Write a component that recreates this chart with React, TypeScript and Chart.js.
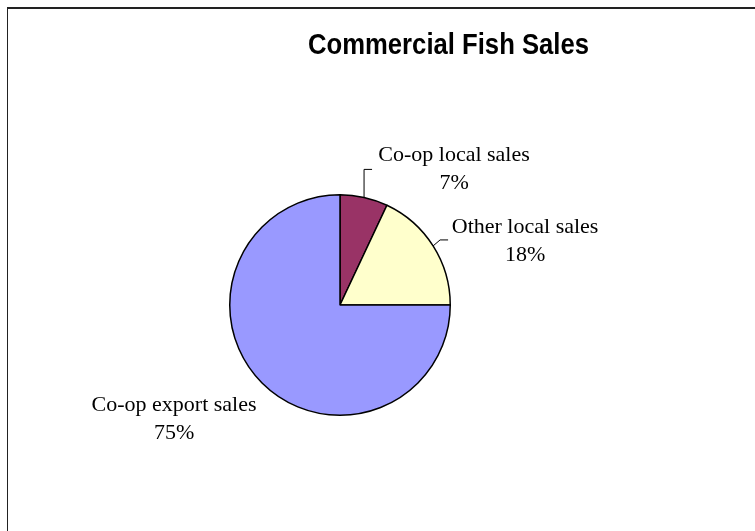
import React, { useEffect, useRef } from "react";
import { Chart, registerables } from "chart.js";

Chart.register(...registerables);

const TITLE = "Commercial Fish Sales";
const categories = ["Co-op local sales", "Other local sales", "Co-op export sales"];
const values = [7, 18, 75];
const sliceColors = ["#993366", "#FFFFCC", "#9999FF"];

// label placement relative to the slice's mid-arc point (styling only)
const placements = [
  { dx: 90, dy: -36, leader: [[0, -28], [8, -28]] },
  { dx: 92, dy: -13, leader: [[7, -6], [15, -6]] },
  { dx: -88, dy: 28, leader: null as null | number[][] },
];

const excelPlugin = {
  id: "excelDecor",
  beforeDraw(chart: any) {
    const ctx = chart.ctx;
    ctx.save();
    ctx.fillStyle = "#ffffff";
    ctx.fillRect(0, 0, chart.width, chart.height);
    ctx.fillStyle = "#222222";
    ctx.fillRect(7, 7, chart.width - 7, 2);
    ctx.fillRect(7, 7, 1, chart.height - 7);
    ctx.restore();
  },
  afterDraw(chart: any) {
    const ctx = chart.ctx;
    const meta = chart.getDatasetMeta(0);
    const data: number[] = chart.data.datasets[0].data;
    const labels: string[] = chart.data.labels;
    const total = data.reduce((a, b) => a + b, 0);
    ctx.save();
    meta.data.forEach((arc: any, i: number) => {
      const { x, y, startAngle, endAngle, outerRadius } = arc.getProps(
        ["x", "y", "startAngle", "endAngle", "outerRadius"],
        true
      );
      const mid = (startAngle + endAngle) / 2;
      const px = x + Math.cos(mid) * outerRadius;
      const py = y + Math.sin(mid) * outerRadius;
      const p = placements[i];
      if (p.leader) {
        ctx.beginPath();
        ctx.strokeStyle = "#000";
        ctx.lineWidth = 1;
        ctx.moveTo(px, py);
        p.leader.forEach(([dx, dy]) => ctx.lineTo(px + dx, py + dy));
        ctx.stroke();
      }
      const lx = px + p.dx;
      const ly = py + p.dy;
      ctx.fillStyle = "#000";
      ctx.font = "22px 'Liberation Serif', 'Times New Roman', serif";
      ctx.textAlign = "center";
      ctx.textBaseline = "alphabetic";
      ctx.fillText(labels[i], lx, ly);
      ctx.fillText(Math.round((data[i] / total) * 100) + "%", lx, ly + 28);
    });
    // title
    ctx.translate(448.5, 54);
    ctx.scale(0.885, 1);
    ctx.font = "bold 29px 'Liberation Sans', Arial, sans-serif";
    ctx.textAlign = "center";
    ctx.textBaseline = "alphabetic";
    ctx.fillStyle = "#000";
    ctx.fillText(TITLE, 0, 0);
    ctx.restore();
  },
};

export default function App() {
  const ref = useRef<HTMLCanvasElement | null>(null);
  useEffect(() => {
    if (!ref.current) return;
    const chart = new Chart(ref.current, {
      type: "pie",
      data: {
        labels: categories,
        datasets: [
          {
            data: values,
            backgroundColor: sliceColors,
            borderColor: "#000000",
            borderWidth: 1.5,
          },
        ],
      },
      options: {
        responsive: false,
        animation: false,
        devicePixelRatio: 1,
        layout: { padding: { left: 229, right: 304, top: 194, bottom: 115 } },
        plugins: {
          legend: { display: false },
          tooltip: { enabled: false },
          title: { display: false, text: TITLE },
        },
      },
      plugins: [excelPlugin],
    });
    return () => chart.destroy();
  }, []);
  return (
    <div style={{ position: "fixed", left: 0, top: 0, width: 755, height: 531, overflow: "hidden" }}>
      <canvas ref={ref} width={755} height={531} style={{ display: "block" }} />
    </div>
  );
}
